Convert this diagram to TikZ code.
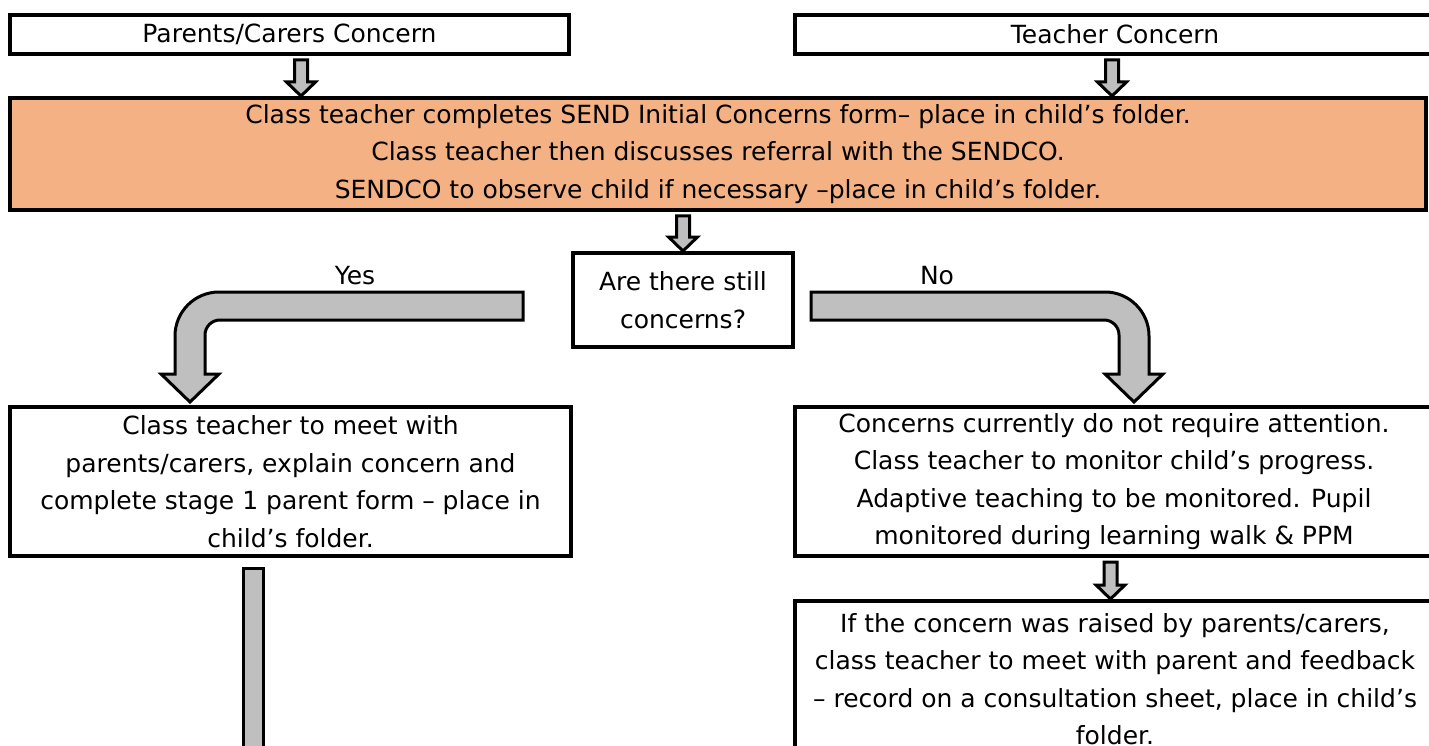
\documentclass[tikz,border=0pt]{standalone}
\usepackage{fontspec}
\setmainfont{DejaVu Sans}
\usetikzlibrary{calc,positioning}

\definecolor{stageorange}{HTML}{F4B183}
\definecolor{blockgray}{HTML}{BFBFBF}

\newcommand{\flowfont}{\fontsize{25}{37.5}\selectfont}

% straight block arrow: #1 top of the shaft, #2 anchor at the height of the tip
\newcommand{\dropblock}[2]{%
\draw[block] let \p1=(#1), \p2=(#2) in
 (\x1-6.5pt,\y1) -- (\x1-6.5pt,\y2+14pt) -- (\x1-14.5pt,\y2+14pt) -- (\x1,\y2)
 -- (\x1+14.5pt,\y2+14pt) -- (\x1+6.5pt,\y2+14pt) -- (\x1+6.5pt,\y1) -- cycle;}

% bent block arrow: #1 end of the band, #2 tip, #3 = 1 turns left, -1 turns right
\newcommand{\turnblock}[3]{%
\draw[block] let \p1=(#1), \p2=(#2) in
 (\x1,\y1+14pt) -- (\x2+#3*29pt,\y1+14pt)
 .. controls (\x2+#3*4.7pt,\y1+14pt) and (\x2+#3*-15pt,\y1-5.7pt) .. (\x2+#3*-15pt,\y1-30pt)
 -- (\x2+#3*-15pt,\y2+28pt) -- (\x2+#3*-29pt,\y2+28pt) -- (\x2,\y2)
 -- (\x2+#3*29pt,\y2+28pt) -- (\x2+#3*15pt,\y2+28pt) -- (\x2+#3*15pt,\y1-29pt)
 .. controls (\x2+#3*15pt,\y1-20.7pt) and (\x2+#3*21.7pt,\y1-14pt) .. (\x2+#3*30pt,\y1-14pt)
 -- (\x1,\y1-14pt) -- cycle;}

\begin{document}
\begin{tikzpicture}[x=1pt,y=-1pt,
box/.style={
% The shape:
rectangle, inner sep=0pt,
% The border:
line width=4pt, draw=black,
% The text:
align=center, font=\flowfont
},
stage/.style={
box,
% The filling:
fill=stageorange
},
answer/.style={
% Only the text
font=\flowfont
},
block/.style={
% The border:
line width=3pt, draw=black, line join=miter,
% The filling:
fill=blockgray
}]

\useasboundingbox (0,0) rectangle (1429,746);
\clip (0,0) rectangle (1429,746);

\node (pc) [box, minimum width=559pt, minimum height=39pt] at (289.5,34.5) {Parents/Carers Concern};
\node (tc) [box, minimum width=640pt, minimum height=39pt] at (1115,34.5) {Teacher Concern};
\node (stage) [stage, minimum width=1416pt, minimum height=112pt] at (718,154)
{Class teacher completes SEND Initial Concerns form– place in child’s folder.\\
Class teacher then discusses referral with the SENDCO.\\
SENDCO to observe child if necessary –place in child’s folder.};
\node (ask) [box, minimum width=220pt, minimum height=94pt] at (683,300) {Are there still\\ concerns?};
\node (act) [box, minimum width=561pt, minimum height=149pt] at (290.5,481.5)
{Class teacher to meet with\\ parents/carers, explain concern and\\ complete stage 1 parent form – place in\\ child’s folder.};
\node (ok) [box, minimum width=638pt, minimum height=149pt] at (1114,481.5)
{Concerns currently do not require attention.\\ Class teacher to monitor child’s progress.\\ Adaptive teaching to be monitored. Pupil\\ monitored during learning walk \& PPM};
\node (next) [box, minimum width=640pt, minimum height=156pt] at (1115,679)
{If the concern was raised by parents/carers,\\ class teacher to meet with parent and feedback\\ – record on a consultation sheet, place in child’s\\ folder.};

\node (yes) [answer] at (355,276) {Yes};
\node (no) [answer] at (937,276) {No};

\coordinate (yesfrom) at ($(ask.west)+(-48,6)$);
\coordinate (yestip) at ($(act.north west)+(182,-3)$);
\coordinate (nofrom) at ($(ask.east)+(16,6)$);
\coordinate (notip) at ($(ok.north west)+(341,-3)$);
\coordinate (actend) at ($(act.south)+(-37,214)$);

\dropblock{$(pc.south)+(11.5,4)$}{stage.north};
\dropblock{$(tc.south)+(-3,4)$}{stage.north};
\dropblock{$(ask.north |- stage.south)+(0,4)$}{ask.north};
\dropblock{$(ok.south)+(-3.5,4)$}{next.north};

\turnblock{yesfrom}{yestip}{1}
\turnblock{nofrom}{notip}{-1}

\draw[block] let \p1=($(act.south)+(-37,10)$), \p2=(actend) in
 (\x1-10pt,\y1) rectangle (\x2+10pt,\y2);
\end{tikzpicture}
\end{document}
